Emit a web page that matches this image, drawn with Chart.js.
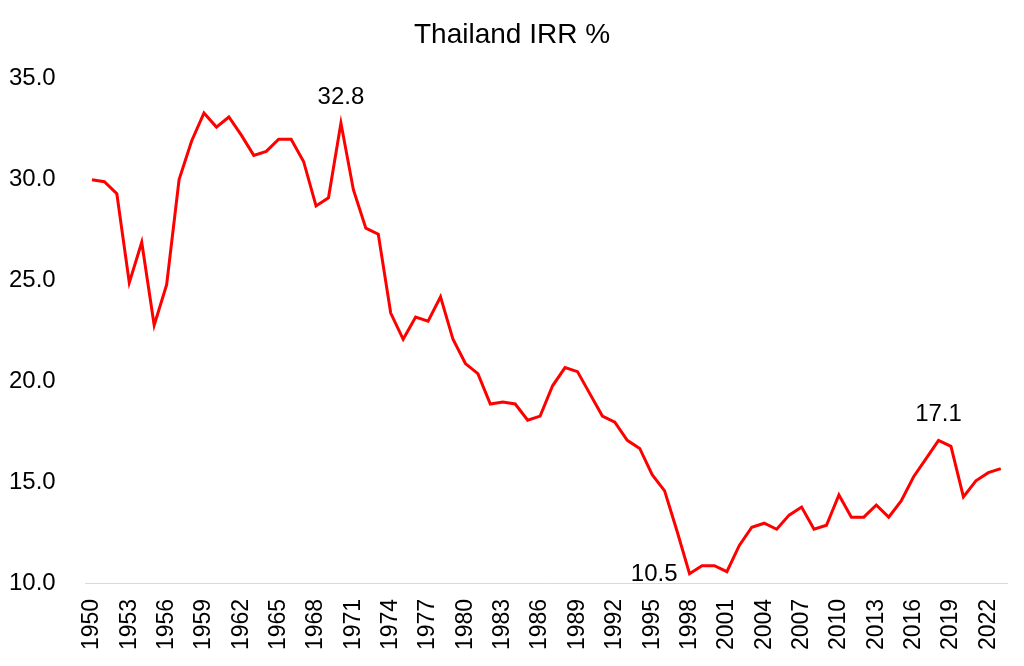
<!DOCTYPE html>
<html>
<head>
<meta charset="utf-8">
<script src="https://cdn.jsdelivr.net/npm/chart.js@4/dist/chart.umd.min.js"></script>
<style>
html,body{margin:0;padding:0;background:#fff;}
#wrap{width:1024px;height:666px;position:relative;}
</style>
</head>
<body>
<div id="wrap"><canvas id="c" width="1024" height="666"></canvas></div>
<script>
const years = ["1950","1951","1952","1953","1954","1955","1956","1957","1958","1959",
"1960","1961","1962","1963","1964","1965","1966","1967","1968","1969",
"1970","1971","1972","1973","1974","1975","1976","1977","1978","1979",
"1980","1981","1982","1983","1984","1985","1986","1987","1988","1989",
"1990","1991","1992","1993","1994","1995","1996","1997","1998","1999",
"2000","2001","2002","2003","2004","2005","2006","2007","2008","2009",
"2010","2011","2012","2013","2014","2015","2016","2017","2018","2019",
"2020","2021","2022","2023"];
const irr = [30.0,29.9,29.3,24.9,26.9,22.8,24.8,30.0,31.9,33.3,
32.6,33.1,32.2,31.2,31.4,32.0,32.0,30.9,28.7,29.1,
32.8,29.5,27.6,27.3,23.4,22.1,23.2,23.0,24.2,22.1,
20.9,20.4,18.9,19.0,18.9,18.1,18.3,19.8,20.7,20.5,
19.4,18.3,18.0,17.1,16.7,15.4,14.6,12.6,10.5,10.9,
10.9,10.6,11.9,12.8,13.0,12.7,13.4,13.8,12.7,12.9,
14.4,13.3,13.3,13.9,13.3,14.1,15.3,16.2,17.1,16.8,
14.3,15.1,15.5,15.7];
const labelledYears = ["1970","1998","2018"];
const yTicks = [10,15,20,25,30,35];
const titleText = "Thailand IRR %";

const FONT = "'Liberation Sans', Arial, sans-serif";

const pointLabels = {
  id: 'pointLabels',
  afterDatasetsDraw(chart) {
    const meta = chart.getDatasetMeta(0);
    const ctx = chart.ctx;
    ctx.save();
    ctx.font = "24px " + FONT;
    ctx.fillStyle = "#000";
    labelledYears.forEach((yr, k) => {
      const i = years.indexOf(yr);
      const pt = meta.data[i];
      const txt = irr[i].toFixed(1);
      if (k === 1) {
        ctx.textAlign = "right";
        ctx.textBaseline = "middle";
        ctx.fillText(txt, pt.x - 12, pt.y + 1);
      } else {
        ctx.textAlign = "center";
        ctx.textBaseline = "bottom";
        ctx.fillText(txt, pt.x, pt.y - 14);
      }
    });
    ctx.restore();
  }
};

new Chart(document.getElementById('c'), {
  type: 'line',
  data: {
    labels: years,
    datasets: [{
      data: irr,
      borderColor: '#FF0000',
      borderWidth: 3,
      pointRadius: 0,
      tension: 0,
      fill: false
    }]
  },
  options: {
    responsive: false,
    animation: false,
    devicePixelRatio: 1,
    layout: { padding: { left: 9, right: 9, top: 0, bottom: 1 } },
    plugins: {
      legend: { display: false },
      tooltip: { enabled: false },
      title: {
        display: true,
        text: titleText,
        color: '#000',
        font: { family: FONT, size: 28, weight: 'normal' },
        padding: { top: 18, bottom: 27 }
      }
    },
    scales: {
      x: {
        offset: true,
        afterFit: (scale) => { scale.paddingRight = 17; },
        grid: { display: false, drawTicks: false },
        border: { display: true, color: '#d9d9d9', width: 1 },
        ticks: {
          autoSkip: false,
          maxRotation: 90,
          minRotation: 90,
          padding: 15,
          color: '#000',
          font: { family: FONT, size: 23 },
          callback: function(v, i) { return i % 3 === 0 ? years[i] : null; }
        }
      },
      y: {
        min: 10,
        max: 35,
        afterBuildTicks: (axis) => { axis.ticks = yTicks.map(v => ({ value: v })); },
        grid: { display: false, drawTicks: false },
        border: { display: false },
        ticks: {
          padding: 15,
          crossAlign: 'far',
          color: '#000',
          font: { family: FONT, size: 24 },
          callback: (v) => Number(v).toFixed(1)
        }
      }
    }
  },
  plugins: [pointLabels]
});
</script>
</body>
</html>
